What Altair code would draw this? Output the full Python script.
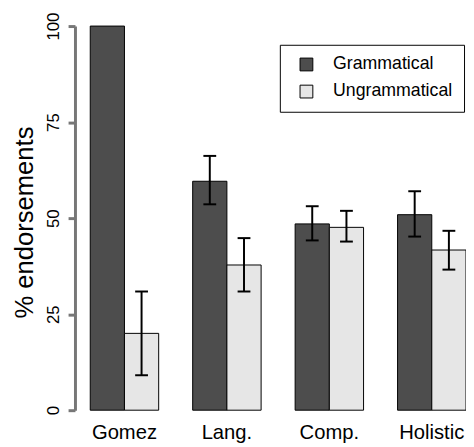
import altair as alt
import pandas as pd

categories = ["Gomez", "Lang.", "Comp.", "Holistic"]
series = ["Grammatical", "Ungrammatical"]
gram = [100, 59.6, 48.5, 50.9]
gram_lo = [None, 53.6, 44.2, 45.2]
gram_hi = [None, 66.2, 53.1, 57.0]
ungram = [20, 37.8, 47.6, 41.7]
ungram_lo = [9.1, 30.9, 43.9, 36.6]
ungram_hi = [30.9, 44.8, 51.9, 46.7]
colors = ["#4D4D4D", "#E6E6E6"]

rows = []
for i, c in enumerate(categories):
    rows.append(dict(cat=c, series=series[0], value=gram[i], lo=gram_lo[i], hi=gram_hi[i]))
    rows.append(dict(cat=c, series=series[1], value=ungram[i], lo=ungram_lo[i], hi=ungram_hi[i]))
df = pd.DataFrame(rows)

x = alt.X("cat:N", sort=categories, title=None,
          scale=alt.Scale(paddingInner=0.332, paddingOuter=0.0745, align=1),
          axis=alt.Axis(domain=False, ticks=False, labelAngle=0, labelFontSize=20.5,
                        labelPadding=13, labelColor="black"))
xo = alt.XOffset("series:N", sort=series, scale=alt.Scale(paddingInner=0, paddingOuter=0))
yax = alt.Axis(values=[0, 25, 50, 75, 100], titleX=-43, titleY=199, domain=True, ticks=True,
               domainColor="#777777", domainWidth=3, tickColor="#777777", tickWidth=3)
yscale = alt.Scale(domain=[0, 100], nice=False)

base = alt.Chart(df)

bars = base.mark_bar(stroke="black", strokeWidth=1).encode(
    x=x, xOffset=xo,
    y=alt.Y("value:Q", scale=yscale, axis=yax, title="% endorsements"),
    color=alt.Color("series:N", sort=series,
                    scale=alt.Scale(domain=series, range=colors),
                    legend=alt.Legend(orient="none", legendX=208, legendY=19, title=None,
                                      strokeColor="black", padding=11, symbolType="square",
                                      symbolSize=169, symbolStrokeColor="black",
                                      symbolStrokeWidth=1, symbolOffset=7, labelOffset=18,
                                      labelFontSize=18, rowPadding=9.5, labelColor="black",
                                      symbolOpacity=1)),
)

err = base.transform_filter("isValid(datum.lo)")
rules = err.mark_rule(color="black", strokeWidth=2).encode(
    x=x, xOffset=xo, y=alt.Y("lo:Q", scale=yscale), y2="hi:Q")
cap_lo = err.mark_tick(color="black", thickness=2, size=13, opacity=1).encode(
    x=x, xOffset=xo, y=alt.Y("lo:Q", scale=yscale))
cap_hi = err.mark_tick(color="black", thickness=2, size=13, opacity=1).encode(
    x=x, xOffset=xo, y=alt.Y("hi:Q", scale=yscale))

chart = alt.layer(bars, rules, cap_lo, cap_hi).properties(
    width=397, height=390,
    autosize=alt.AutoSizeParams(type="none"),
    padding={"left": 68, "top": 15, "right": 0, "bottom": 33},
).configure(font="Liberation Sans").configure_view(strokeWidth=0).configure_axisY(
    grid=False,
    tickSize=7, labelAngle=270, labelAlign="center", labelBaseline="alphabetic",
    labelPadding=10, labelFontSize=17, labelColor="black",
    titleAngle=270, titleAlign="center",
    titleBaseline="alphabetic", titleFontSize=26, titleFontWeight="normal",
    titleColor="black")

chart.save("out.html", embed_options={"renderer": "svg", "actions": False})
